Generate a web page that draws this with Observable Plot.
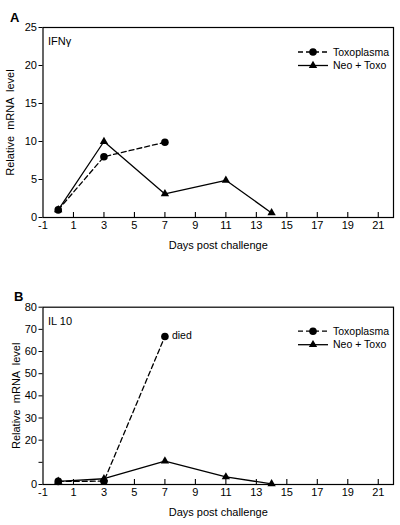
<!DOCTYPE html>
<html><head><meta charset="utf-8">
<script src="https://cdn.jsdelivr.net/npm/d3@7"></script>
<script src="https://cdn.jsdelivr.net/npm/@observablehq/plot@0.6"></script>
<style>
body{margin:0;background:#fff;}
#chart{width:400px;}
#chart svg{display:block;overflow:visible;}
</style></head><body><div id="chart"></div>
<script>
// ---- data ----
const seriesNames = ["Toxoplasma", "Neo + Toxo"];
const ifnToxoDays = [0, 3, 7];
const ifnToxo = [1, 8, 9.9];
const ifnNeoDays = [0, 3, 7, 11, 14];
const ifnNeo = [1, 10, 3.1, 4.9, 0.6];
const il10ToxoDays = [0, 3, 7];
const il10Toxo = [1.4, 1.5, 66.8];
const il10NeoDays = [0, 3, 7, 11, 14];
const il10Neo = [1.4, 2.6, 10.6, 3.4, 0.3];
const xTickLabels = [-1, 1, 3, 5, 7, 9, 11, 13, 15, 17, 19, 21];
const xTickMarks = [1, 3, 5, 7, 9, 11, 13, 15, 17, 19, 21];
const ifnYTicks = [0, 5, 10, 15, 20, 25];
const il10YTicks = [0, 10, 20, 30, 40, 50, 60, 70, 80];
const il10YLabels = ["0", "", "20", "30", "40", "50", "60", "70", "80"];
const xTitle = "Days post challenge";
const yTitle = "Relative  mRNA  level";

const FONT = "Liberation Sans, Arial, Helvetica, sans-serif";
const toRows = (xs, ys) => xs.map((x, i) => ({x, y: ys[i]}));
const CIRCLE_R = 3.8, TRI_R = 3.1;

function panel({letter, cytokine, toxo, neo, yDomain, yTicks, yFormat, height, marginTop, marginBottom, yLabelOffset, died, legendTop}) {
  const width = 400, marginLeft = 42.5, marginRight = 7;
  const innerH = height - marginTop - marginBottom;
  const marks = [
    Plot.frame({stroke: "black", strokeWidth: 1.2}),
    Plot.ruleX(xTickMarks, {x: d => d, insetTop: innerH - 5, stroke: "black", strokeWidth: 1.1}),
    Plot.axisX(xTickLabels, {tickSize: 0, tickPadding: 4, fontSize: 11, tickFormat: d => String(d), label: null}),
    Plot.axisY(yTicks, {tickSize: 4, tickPadding: 2, fontSize: 11, tickFormat: yFormat, label: null}),
    Plot.text([xTitle], {frameAnchor: "bottom", text: d => d, dy: 28, fontSize: 11, textAnchor: "middle", lineAnchor: "middle"}),
    Plot.text([yTitle], {frameAnchor: "left", text: d => d, dx: -yLabelOffset, rotate: -90, fontSize: 11, textAnchor: "middle", lineAnchor: "middle"}),
    Plot.line(toxo, {x: "x", y: "y", stroke: "black", strokeWidth: 1.3, strokeDasharray: "5,3"}),
    Plot.line(neo, {x: "x", y: "y", stroke: "black", strokeWidth: 1.3}),
    Plot.dot(toxo, {x: "x", y: "y", r: CIRCLE_R, fill: "black", stroke: "none"}),
    Plot.dot(neo, {x: "x", y: "y", r: TRI_R, symbol: "triangle", fill: "black", stroke: "none"}),
    Plot.text([cytokine], {frameAnchor: "top-left", text: d => d, dx: 5, dy: 10, fontSize: 11, textAnchor: "start"}),
    Plot.text([letter], {frameAnchor: "top-left", text: d => d, dx: letter === "A" ? -33 : -29, dy: -15, fontSize: 13, fontWeight: "bold", textAnchor: "start"})
  ];
  if (died) {
    marks.push(Plot.text([toxo[toxo.length - 1]], {x: "x", y: "y", text: () => "died", dx: 7, dy: -1, fontSize: 10.5, textAnchor: "start"}));
  }
  const svg = Plot.plot({
    width, height, marginLeft, marginRight, marginTop, marginBottom,
    style: {fontFamily: FONT, fontSize: "11px", color: "black", background: "white"},
    x: {domain: [-1, 22]},
    y: {domain: yDomain},
    marks
  });
  // legend inside plot area, top-right
  const g = d3.select(svg).append("g").attr("font-family", FONT).attr("font-size", 10.5).attr("text-anchor", "start");
  const right = width - marginRight;
  const x0 = right - 95, x1 = right - 65, xm = (x0 + x1) / 2, xt = right - 60;
  seriesNames.forEach((name, i) => {
    const yy = marginTop + legendTop + i * 13.5;
    g.append("line").attr("x1", x0).attr("x2", x1).attr("y1", yy).attr("y2", yy)
      .attr("stroke", "black").attr("stroke-width", 1.3)
      .attr("stroke-dasharray", i === 0 ? "5,3" : null);
    if (i === 0) g.append("circle").attr("cx", xm).attr("cy", yy).attr("r", CIRCLE_R).attr("fill", "black");
    else g.append("path").attr("d", d3.symbol(d3.symbolTriangle, TRI_R * TRI_R * Math.PI)()).attr("transform", `translate(${xm},${yy})`).attr("fill", "black");
    g.append("text").attr("x", xt).attr("y", yy).attr("dy", "0.35em").attr("text-anchor", "start").text(name);
  });
  return svg;
}

const chart = document.getElementById("chart");
chart.appendChild(panel({
  letter: "A", cytokine: "IFNγ",
  toxo: toRows(ifnToxoDays, ifnToxo), neo: toRows(ifnNeoDays, ifnNeo),
  yDomain: [0, 25], yTicks: ifnYTicks, yFormat: d => String(d),
  height: 260, marginTop: 27, marginBottom: 43, yLabelOffset: 33, died: false, legendTop: 25
}));
chart.appendChild(panel({
  letter: "B", cytokine: "IL 10",
  toxo: toRows(il10ToxoDays, il10Toxo), neo: toRows(il10NeoDays, il10Neo),
  yDomain: [0, 80], yTicks: il10YTicks, yFormat: (d, i) => il10YLabels[i],
  height: 265, marginTop: 46.7, marginBottom: 41, yLabelOffset: 27, died: true, legendTop: 24.5
}));
</script></body></html>
